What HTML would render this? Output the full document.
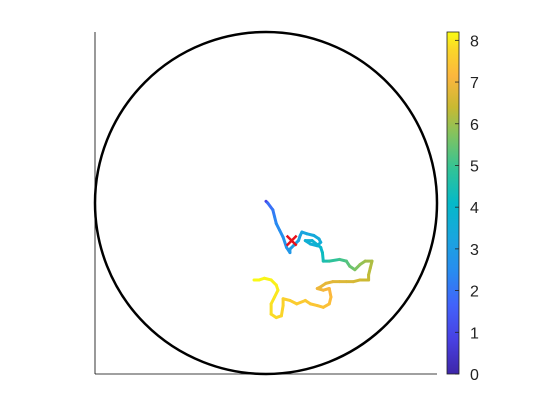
<!DOCTYPE html>
<html><head><meta charset="utf-8"><style>
body{margin:0;background:#fff}
svg{display:block;font-family:"Liberation Sans",Arial,sans-serif}
</style></head><body>
<svg id="c" width="560" height="420">
<defs><linearGradient id="pg" x1="0" y1="1" x2="0" y2="0">
<stop offset="0" stop-color="rgb(62,38,168)"/><stop offset="0.1" stop-color="rgb(72,64,226)"/><stop offset="0.2" stop-color="rgb(66,98,250)"/><stop offset="0.3" stop-color="rgb(40,140,240)"/><stop offset="0.4" stop-color="rgb(25,166,222)"/><stop offset="0.5" stop-color="rgb(5,185,200)"/><stop offset="0.6" stop-color="rgb(50,195,150)"/><stop offset="0.7" stop-color="rgb(130,195,95)"/><stop offset="0.78" stop-color="rgb(200,185,50)"/><stop offset="0.87" stop-color="rgb(252,182,62)"/><stop offset="0.95" stop-color="rgb(250,215,40)"/><stop offset="1" stop-color="rgb(249,251,20)"/></linearGradient></defs>
<g id="plot"></g>
</svg>
<script>
const xs=[0.00,0.01,0.04,0.05,0.06,0.08,0.10,0.12,0.14,0.14,0.16,0.19,0.20,0.21,0.24,0.28,0.31,0.32,0.30,0.26,0.23,0.27,0.32,0.33,0.335,0.37,0.43,0.47,0.49,0.52,0.55,0.58,0.62,0.61,0.60,0.60,0.55,0.51,0.47,0.43,0.39,0.35,0.32,0.30,0.335,0.37,0.38,0.37,0.335,0.30,0.26,0.23,0.18,0.14,0.10,0.10,0.09,0.06,0.03,0.03,0.05,0.07,0.06,0.03,-0.01,-0.04,-0.07];
const ys=[0.01,0.00,-0.04,-0.08,-0.12,-0.16,-0.20,-0.26,-0.29,-0.27,-0.25,-0.22,-0.19,-0.17,-0.18,-0.19,-0.21,-0.23,-0.25,-0.24,-0.22,-0.22,-0.26,-0.29,-0.34,-0.34,-0.33,-0.34,-0.37,-0.39,-0.36,-0.34,-0.34,-0.38,-0.42,-0.45,-0.45,-0.46,-0.46,-0.46,-0.46,-0.47,-0.49,-0.50,-0.51,-0.50,-0.55,-0.59,-0.61,-0.60,-0.59,-0.57,-0.59,-0.57,-0.56,-0.60,-0.66,-0.67,-0.65,-0.59,-0.55,-0.51,-0.48,-0.45,-0.44,-0.45,-0.45];
const ts=[0.0,1.8,2.0,2.2,2.4,2.5,2.6,2.7,2.8,2.9,3.0,3.1,3.15,3.2,3.3,3.4,3.45,3.5,3.55,3.6,3.65,3.7,3.9,4.1,4.4,4.7,5.0,5.2,5.4,5.6,5.8,6.0,6.1,6.2,6.3,6.4,6.5,6.6,6.65,6.7,6.75,6.8,6.85,6.9,7.0,7.1,7.2,7.3,7.35,7.4,7.45,7.5,7.55,7.6,7.65,7.7,7.75,7.8,7.85,7.9,7.95,8.0,8.05,8.1,8.13,8.16,8.2];
const cbTicks=[0,1,2,3,4,5,6,7,8];
const cbMax=8.2;
const markX=[0.15], markY=[-0.22];
const NS="http://www.w3.org/2000/svg";
const svg=document.getElementById('c'), g=document.getElementById('plot');
const cx=266,cy=203,R=171;
const X=v=>cx+v*R, Y=v=>cy-v*R;
const CB0=374,CB1=32, CY=v=>CB0-(v/cbMax)*(CB0-CB1);
const stops=[[0,[62,38,168]],[0.1,[72,64,226]],[0.2,[66,98,250]],[0.3,[40,140,240]],[0.4,[25,166,222]],[0.5,[5,185,200]],[0.6,[50,195,150]],[0.7,[130,195,95]],[0.78,[200,185,50]],[0.87,[252,182,62]],[0.95,[250,215,40]],[1,[249,251,20]]];
function cmap(f){f=Math.max(0,Math.min(1,f));for(let i=1;i<stops.length;i++){if(f<=stops[i][0]){const a=stops[i-1],b=stops[i],u=(f-a[0])/(b[0]-a[0]);return 'rgb('+a[1].map((c,k)=>Math.round(c+(b[1][k]-c)*u)).join(',')+')';}}return 'rgb(249,251,20)';}
function mk(t,at,p){const e=document.createElementNS(NS,t);for(const k in at)e.setAttribute(k,at[k]);(p||svg).appendChild(e);return e;}
let e;
e=mk('line',{x1:95,y1:32,x2:95,y2:374,stroke:'#000','stroke-width':0.8},g);


e=mk('line',{x1:95,y1:374,x2:437,y2:374,stroke:'#000','stroke-width':0.8},g);


e=mk('circle',{cx:X(0),cy:Y(0),r:R,fill:'none',stroke:'#000','stroke-width':2.5},g);


for(let i=1;i<xs.length;i++){
 e=mk('line',{x1:X(xs[i-1]),y1:Y(ys[i-1]),x2:X(xs[i]),y2:Y(ys[i]),stroke:cmap((ts[i]+ts[i-1])/2/cbMax),'stroke-width':3,'stroke-linecap':'round'},g);
 
 
}
for(let i=0;i<markX.length;i++){
 const mx=X(markX[i]),my=Y(markY[i]);
 e=mk('path',{d:`M${mx-5},${my-5}L${mx+5},${my+5}M${mx-5},${my+5}L${mx+5},${my-5}`,stroke:'#e8101a','stroke-width':2.5},g);
 
 
}
e=mk('rect',{x:447,y:CB1,width:12,height:CB0-CB1,fill:'url(#pg)',stroke:'#222','stroke-width':0.8});


cbTicks.forEach(v=>{
 e=mk('line',{x1:455,y1:CY(v),x2:459,y2:CY(v),stroke:'#222','stroke-width':0.8});
 
 
 e=mk('text',{x:470,y:CY(v)+6,'font-size':16,fill:'#222'});
 e.textContent=v;
 
 
});
</script>
</body></html>
